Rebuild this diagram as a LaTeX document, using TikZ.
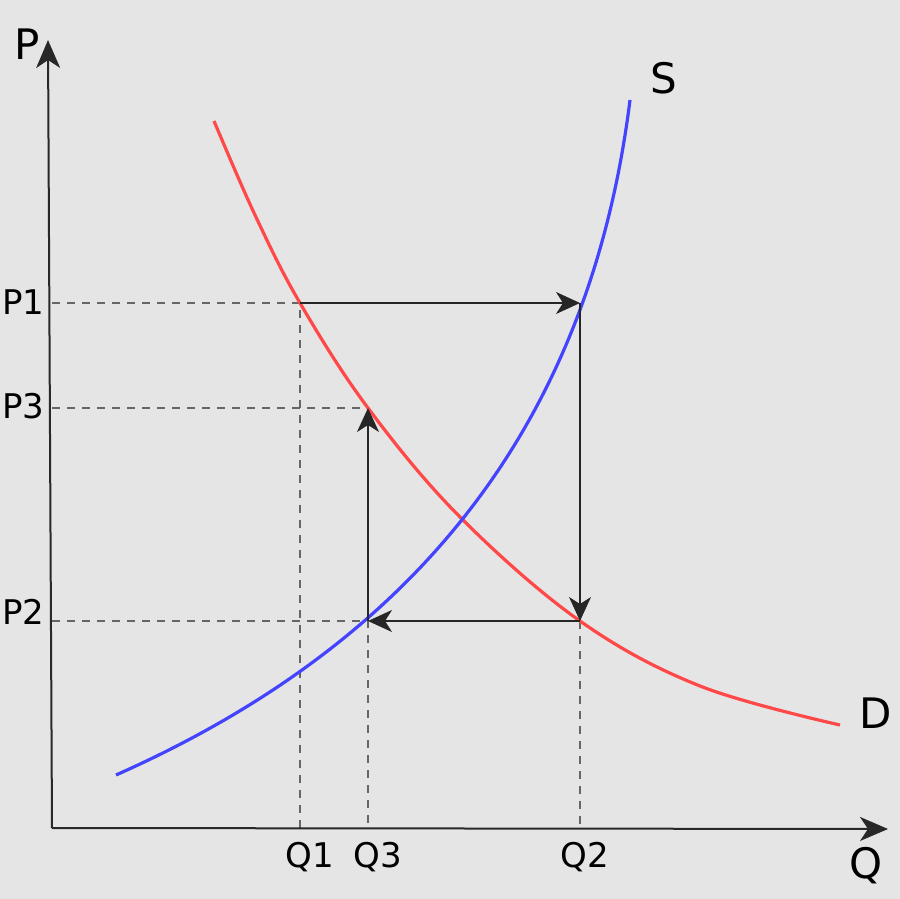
\documentclass[tikz,border=0pt]{standalone}
\usepackage{fontspec}
\setmainfont{DejaVu Sans}
\usetikzlibrary{arrows.meta}
\definecolor{paperbg}{RGB}{229,229,229}
\definecolor{axisgray}{RGB}{40,40,40}
\definecolor{demandred}{RGB}{255,72,72}
\definecolor{supplyblue}{RGB}{68,68,255}
\tikzset{
  axisline/.style={axisgray, line width=1pt, -{Stealth[length=14pt, width=12pt, inset=4pt]}},
  curveline/.style={line width=1.6pt},
  moveline/.style={black!85, line width=0.7pt, -{Stealth[length=12pt, width=11pt, inset=3.5pt]}},
  guideline/.style={black!60, line width=0.55pt, dash pattern=on 4pt off 3.5pt},
  ticklabel/.style={font=\fontsize{17}{20}\selectfont, inner sep=1pt},
  axislabel/.style={font=\fontsize{21}{24}\selectfont, inner sep=1pt}
}
\begin{document}
\begin{tikzpicture}[x=0.5pt, y=-0.5pt]
 % Background
 \fill[paperbg] (0,0) rectangle (900,899);
 \useasboundingbox (0,0) rectangle (900,899);

 % Key points
 \coordinate (origin) at (52,828);
 \coordinate (ptop) at (48,40);
 \coordinate (qend) at (888,829);
 \coordinate (pone) at (52,303);
 \coordinate (pthree) at (52,408);
 \coordinate (ptwo) at (52,621);
 \coordinate (qone) at (300,828);
 \coordinate (qthree) at (368,828);
 \coordinate (qtwo) at (580,828);
 \coordinate (dstart) at (300,303);
 \coordinate (shigh) at (580,303);
 \coordinate (dlow) at (580,621);
 \coordinate (slow) at (368,621);
 \coordinate (dmid) at (368,408);

 % Guides
 \draw[guideline] (pone) -- (dstart) -- (qone);
 \draw[guideline] (pthree) -- (dmid);
 \draw[guideline] (ptwo) -- (slow) -- (qthree);
 \draw[guideline] (dlow) -- (qtwo);

 % Demand and supply
 \draw[curveline, demandred] plot[smooth, tension=0.6] coordinates
  {(214,121) (255,215) (300,303) (368,408) (460,517) (580,621) (700,686) (840,725)};
 \draw[curveline, supplyblue] (116,775) .. controls (420,640) and (590,420) .. (630,100);

 % Cobweb steps
 \draw[moveline] (dstart) -- (shigh);
 \draw[moveline] (shigh) -- (dlow);
 \draw[moveline] (dlow) -- (slow);
 \draw[moveline] (slow) -- (dmid);

 % Axes
 \draw[axisline] (origin) -- (ptop);
 \draw[axisline] (origin) -- (qend);

 % Labels
 \node[axislabel] (plabel) at (27,44) {P};
 \node[axislabel] (qlabel) at (866,866) {Q};
 \node[axislabel] (slabel) at (664,78) {S};
 \node[axislabel] (dlabel) at (876,713) {D};
 \node[ticklabel, anchor=east] (ponelabel) at (47,302) {P1};
 \node[ticklabel, anchor=east] (pthreelabel) at (47,406) {P3};
 \node[ticklabel, anchor=east] (ptwolabel) at (47,612) {P2};
 \node[ticklabel] (qonelabel) at (310,857) {Q1};
 \node[ticklabel] (qthreelabel) at (378,857) {Q3};
 \node[ticklabel] (qtwolabel) at (585,857) {Q2};
\end{tikzpicture}
\end{document}
